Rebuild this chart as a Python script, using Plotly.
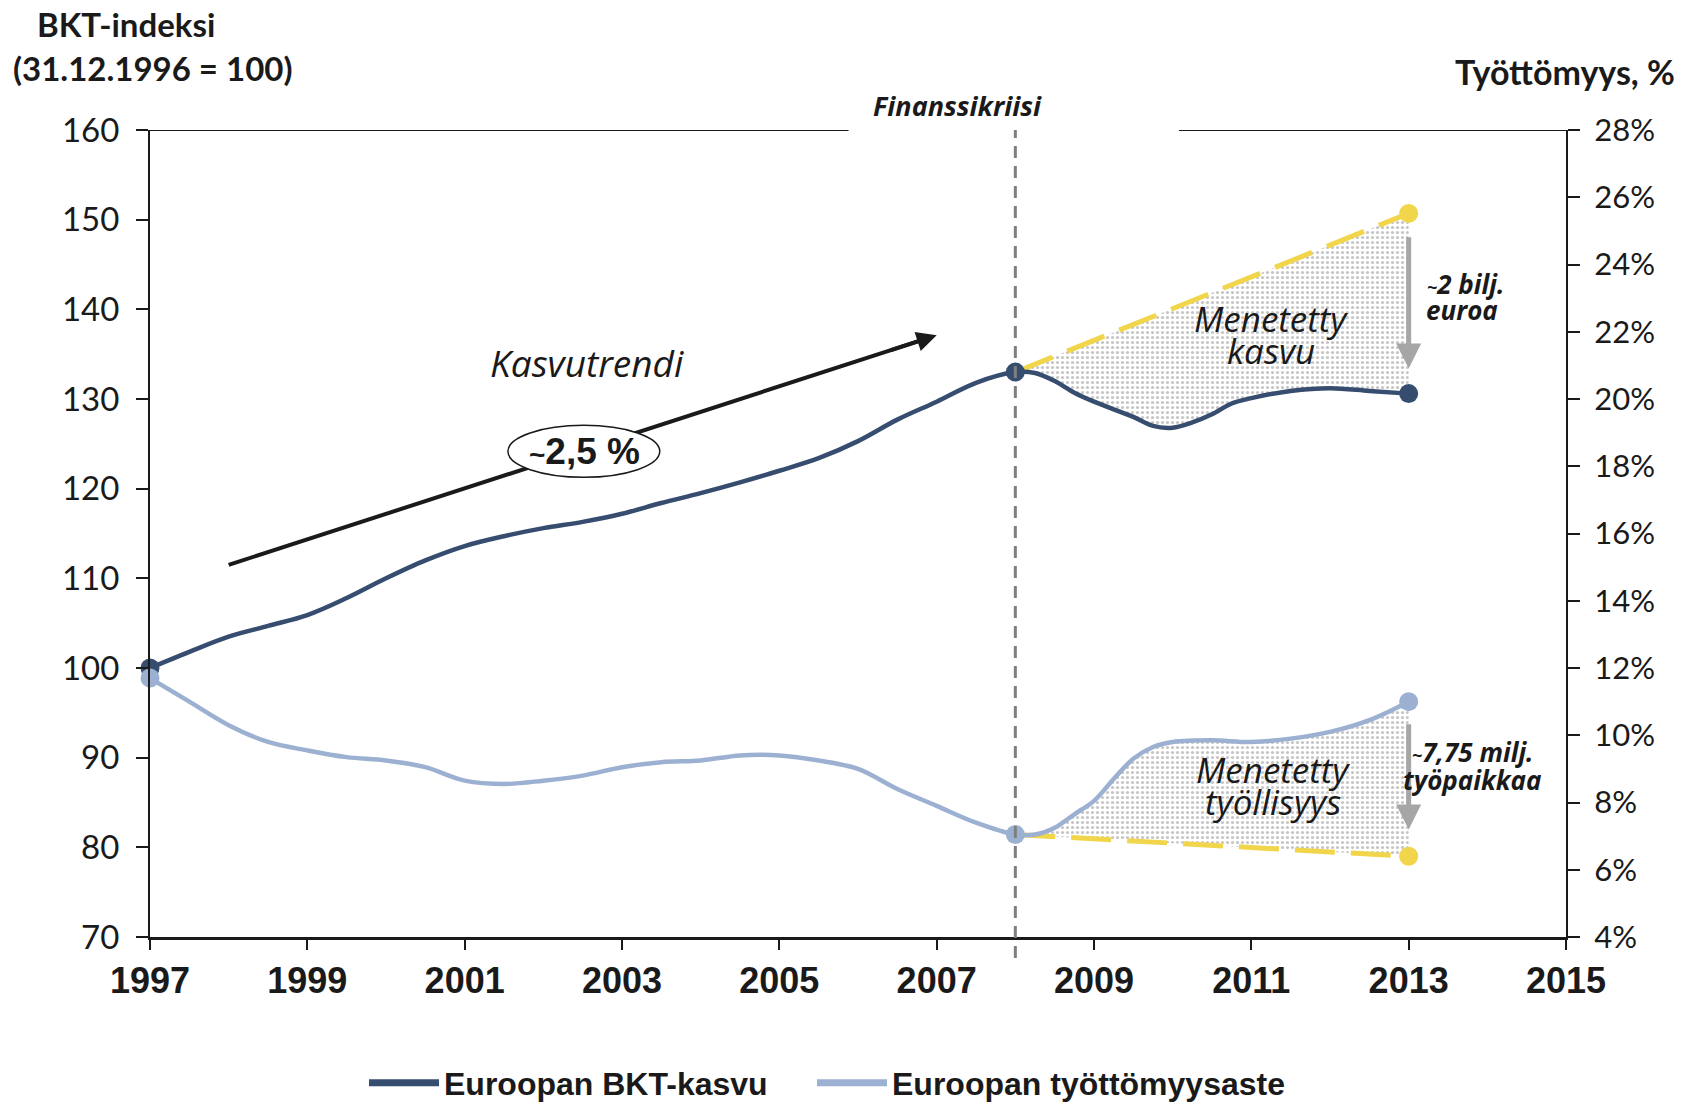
import plotly.graph_objects as go

# ---------------- data ----------------
gdp_years = [1997, 1997.5, 1998, 1998.5, 1999, 1999.5, 2000, 2000.5, 2001, 2001.5,
             2002, 2002.5, 2003, 2003.5, 2004, 2004.5, 2005, 2005.5, 2006, 2006.5,
             2007, 2007.5, 2008, 2008.25, 2008.5, 2008.75, 2009, 2009.5, 2009.75, 2010,
             2010.25, 2010.5, 2010.75, 2011, 2011.5, 2012, 2012.5, 2013]
gdp = [100.0, 101.8, 103.5, 104.7, 105.9, 107.8, 110.0, 112.0, 113.6, 114.7,
       115.6, 116.3, 117.2, 118.4, 119.5, 120.7, 122.0, 123.4, 125.3, 127.7,
       129.7, 131.8, 133.0, 132.9, 132.0, 130.7, 129.7, 128.0, 127.0, 126.8,
       127.4, 128.3, 129.5, 130.1, 130.9, 131.2, 130.9, 130.6]

unemp_years = [1997, 1997.5, 1998, 1998.5, 1999, 1999.5, 2000, 2000.5, 2001, 2001.5,
               2002, 2002.5, 2003, 2003.5, 2004, 2004.5, 2005, 2005.5, 2006, 2006.5,
               2007, 2007.5, 2008, 2008.25, 2008.5, 2008.75, 2009, 2009.25, 2009.5, 2009.75,
               2010, 2010.5, 2011, 2011.5, 2012, 2012.5, 2013]
unemp = [11.7, 11.0, 10.3, 9.8, 9.55, 9.35, 9.25, 9.05, 8.65, 8.55,
         8.65, 8.8, 9.05, 9.2, 9.25, 9.4, 9.4, 9.25, 9.0, 8.4,
         7.9, 7.4, 7.05, 7.05, 7.25, 7.65, 8.05, 8.7, 9.3, 9.65,
         9.8, 9.85, 9.8, 9.9, 10.1, 10.45, 11.0]

trend_years = [2008, 2013]
gdp_trend = [133.0, 150.7]
unemp_trend = [7.05, 6.4]

crisis_year = 2008
growth_arrow_start = (1998.0, 111.5)
growth_arrow_end = (2007.0, 137.1)

legend_names = ["Euroopan BKT-kasvu", "Euroopan työttömyysaste"]

# ---------------- styles ----------------
NAVY = "#364d6f"
LIGHT = "#9cb1d1"
YELLOW = "#f1d54a"
GRAYARROW = "#a6a6a6"
TXT = "#1a1a1a"

fig = go.Figure()

i_g = gdp_years.index(crisis_year)
i_u = unemp_years.index(crisis_year)
pattern = dict(shape=".", fgcolor="#8c8c8c", bgcolor="white", size=5, solidity=0.33)

# filled "lost" areas
fig.add_trace(go.Scatter(x=gdp_years[i_g:], y=gdp[i_g:], mode="lines",
                         line=dict(width=0, shape="spline"), showlegend=False, hoverinfo="skip"))
fig.add_trace(go.Scatter(x=trend_years, y=gdp_trend, mode="lines", line=dict(width=0),
                         fill="tonexty", fillcolor="white", fillpattern=pattern,
                         showlegend=False, hoverinfo="skip"))
fig.add_trace(go.Scatter(x=unemp_years[i_u:], y=unemp[i_u:], mode="lines", yaxis="y2",
                         line=dict(width=0, shape="spline"), showlegend=False, hoverinfo="skip"))
fig.add_trace(go.Scatter(x=trend_years, y=unemp_trend, mode="lines", yaxis="y2",
                         line=dict(width=0), fill="tonexty", fillcolor="white",
                         fillpattern=pattern, showlegend=False, hoverinfo="skip"))

# trend dashed lines
for ty, ax in [(gdp_trend, "y"), (unemp_trend, "y2")]:
    fig.add_trace(go.Scatter(x=trend_years, y=ty, mode="lines", yaxis=ax,
                             line=dict(color=YELLOW, width=5, dash="40px,16px"),
                             showlegend=False, hoverinfo="skip"))
    fig.add_trace(go.Scatter(x=[trend_years[-1]], y=[ty[-1]], mode="markers", yaxis=ax,
                             marker=dict(color=YELLOW, size=19), showlegend=False,
                             cliponaxis=False, hoverinfo="skip"))

# main lines
fig.add_trace(go.Scatter(x=gdp_years, y=gdp, mode="lines", name=legend_names[0],
                         line=dict(color=NAVY, width=4.5, shape="spline"),
                         cliponaxis=False, showlegend=False))
fig.add_trace(go.Scatter(x=unemp_years, y=unemp, mode="lines", name=legend_names[1], yaxis="y2",
                         line=dict(color=LIGHT, width=4.5, shape="spline"),
                         cliponaxis=False, showlegend=False))

# key points
for yrs, vals, col, ax in [(gdp_years, gdp, NAVY, "y"), (unemp_years, unemp, LIGHT, "y2")]:
    idx = [0, yrs.index(crisis_year), len(yrs) - 1]
    fig.add_trace(go.Scatter(x=[yrs[i] for i in idx], y=[vals[i] for i in idx], mode="markers",
                             yaxis=ax, marker=dict(color=col, size=19), showlegend=False,
                             cliponaxis=False, hoverinfo="skip"))

# legend entries (thicker symbol as in the reference), each in its own legend box
for nm, col, lg in zip(legend_names, [NAVY, LIGHT], ["legend", "legend2"]):
    fig.add_trace(go.Scatter(x=[None], y=[None], mode="lines", name=nm, legend=lg,
                             line=dict(color=col, width=7), showlegend=True))

# ---------------- shapes ----------------
shapes = [
    dict(type="line", xref="x", yref="y", x0=1997, x1=2005.88, y0=160, y1=160,
         line=dict(color=TXT, width=2)),
    dict(type="line", xref="x", yref="y", x0=2010.08, x1=2015, y0=160, y1=160,
         line=dict(color=TXT, width=2)),
    dict(type="line", xref="x", yref="paper", x0=crisis_year, x1=crisis_year, y0=-0.026, y1=1,
         line=dict(color="#7f7f7f", width=3, dash="12px,8px")),
    dict(type="line", xref="x", yref="y", x0=growth_arrow_start[0], y0=growth_arrow_start[1],
         x1=growth_arrow_end[0] - 0.15, y1=growth_arrow_end[1] - 0.15 * 2.844,
         line=dict(color=TXT, width=4), layer="above"),
    dict(type="circle", xref="x", yref="y", x0=2001.55, x1=2003.48, y0=121.27, y1=127.06,
         line=dict(color=TXT, width=1.5), fillcolor="white", layer="above"),
]

ann = []
# arrowhead of growth trend
ann.append(dict(x=growth_arrow_end[0], y=growth_arrow_end[1], ax=growth_arrow_end[0] - 0.6,
                ay=growth_arrow_end[1] - 0.6 * 2.844, xref="x", yref="y", axref="x", ayref="y",
                showarrow=True, arrowhead=2, arrowsize=1, arrowwidth=4, arrowcolor=TXT, text=""))
# gray arrows
ann.append(dict(x=2013, y=133.4, ax=2013, ay=148.2, xref="x", yref="y", axref="x", ayref="y",
                showarrow=True, arrowhead=2, arrowsize=1.0, arrowwidth=5, arrowcolor=GRAYARROW, text=""))
ann.append(dict(x=2013, y=82.0, ax=2013, ay=93.9, xref="x", yref="y", axref="x", ayref="y",
                showarrow=True, arrowhead=2, arrowsize=1.0, arrowwidth=5, arrowcolor=GRAYARROW, text=""))

it = dict(family="Open Sans", size=35, color=TXT, style="italic")
bi = dict(family="Open Sans", size=26, color=TXT, style="italic", weight="bold")


def txt(x, y, s, font, **kw):
    d = dict(x=x, y=y, xref="x", yref="y", text=s, showarrow=False, font=font)
    d.update(kw)
    ann.append(d)


txt(2002.56, 134.1, "Kasvutrendi", dict(it, size=37))
txt(2002.52, 124.1, "<span style='font-size:28px'>~</span>2,5 %",
    dict(family="Liberation Sans", size=37, color=TXT, weight="bold"))
txt(2011.25, 139.0, "Menetetty", it)
txt(2011.25, 135.4, "kasvu", it)
txt(2011.27, 88.7, "Menetetty", it)
txt(2011.27, 85.1, "työllisyys", it)
txt(2013.72, 142.8, "<span style='font-size:18px'>~</span>2 bilj.", bi)
txt(2013.68, 139.9, "euroa", bi)
txt(2013.82, 90.6, "<span style='font-size:18px'>~</span>7,75 milj.", bi)
txt(2013.80, 87.5, "työpaikkaa", bi)

ann.append(dict(x=crisis_year - 0.74, y=1 + 25 / 807, xref="x", yref="paper",
                yanchor="middle", text="Finanssikriisi", showarrow=False,
                font=dict(family="Open Sans", size=27, color=TXT, style="italic", weight="bold")))

hb = dict(family="Lato", size=33, color=TXT, weight="bold")
ann.append(dict(x=(126 - 150) / 1416, y=(937 - 24) / 807, xref="paper", yref="paper",
                xanchor="center", yanchor="middle", text="BKT-indeksi", showarrow=False, font=hb))
ann.append(dict(x=(153 - 150) / 1416, y=(937 - 68) / 807, xref="paper", yref="paper",
                xanchor="center", yanchor="middle", text="(31.12.1996 = 100)", showarrow=False, font=hb))
ann.append(dict(x=(1677 - 150) / 1416, y=(937 - 71) / 807, xref="paper", yref="paper",
                xanchor="right", yanchor="middle", text="Työttömyys, %", showarrow=False,
                font=dict(hb, size=34)))

legfont = dict(family="Liberation Sans", size=32, color=TXT, weight="bold")
fig.update_layout(
    width=1688, height=1096,
    margin=dict(l=142, r=130, t=122, b=167, autoexpand=False),
    paper_bgcolor="white", plot_bgcolor="white",
    showlegend=True,
    legend=dict(orientation="h", x=(364 - 150) / 1416, xanchor="left",
                y=(937 - 1083) / 807, yanchor="middle", font=legfont, itemwidth=70),
    legend2=dict(orientation="h", x=(812 - 150) / 1416, xanchor="left",
                 y=(937 - 1083) / 807, yanchor="middle", font=legfont, itemwidth=70),
    xaxis=dict(range=[1997, 2015], tick0=1997, dtick=2, showgrid=False, zeroline=False,
               showline=True, linecolor=TXT, linewidth=3, ticks="outside", ticklen=10,
               tickwidth=1.5, tickcolor=TXT,
               tickfont=dict(family="Liberation Sans", size=36, color=TXT, weight="bold")),
    yaxis=dict(range=[70, 160], dtick=10, showgrid=False, zeroline=False, showline=True,
               linecolor=TXT, linewidth=2, ticks="outside", ticklen=12, tickwidth=1.5,
               tickcolor=TXT, ticklabelstandoff=10,
               tickfont=dict(family="Lato", size=33, color=TXT)),
    yaxis2=dict(range=[4, 28], dtick=2, overlaying="y", side="right", ticksuffix="%",
                showgrid=False, zeroline=False, showline=True, linecolor=TXT, linewidth=2,
                ticks="outside", ticklen=12, tickwidth=1.5, tickcolor=TXT, ticklabelstandoff=8,
                tickfont=dict(family="Lato", size=31, color=TXT)),
    shapes=shapes,
    annotations=ann,
)

fig.write_html("out.html")
